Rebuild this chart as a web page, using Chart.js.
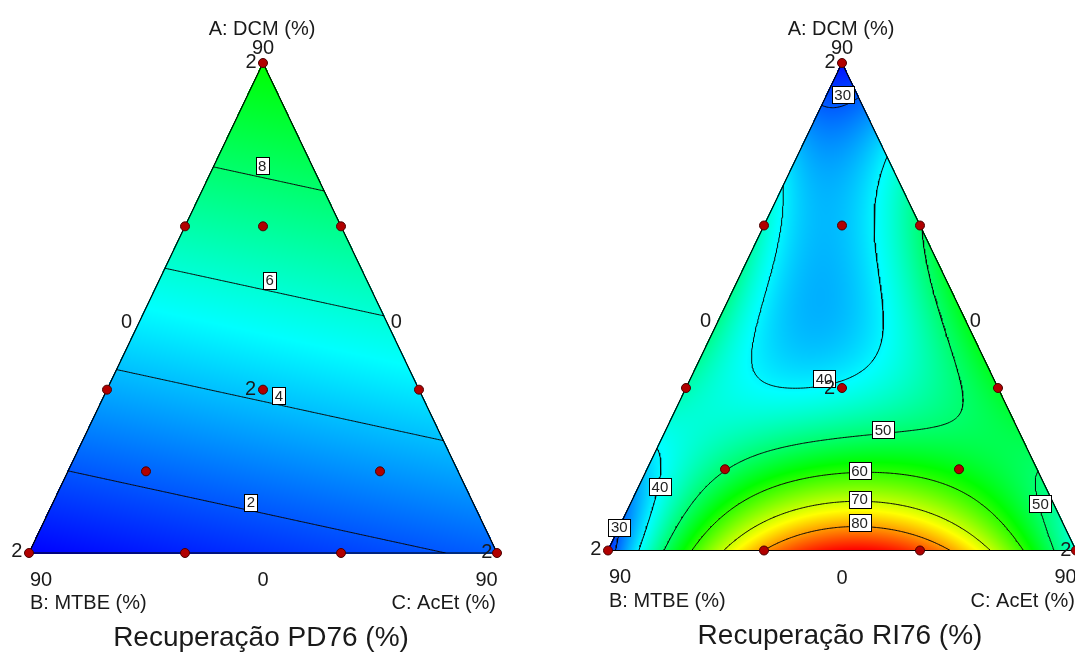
<!DOCTYPE html>
<html>
<head>
<meta charset="utf-8">
<script src="https://cdn.jsdelivr.net/npm/chart.js@4.4.0/dist/chart.umd.min.js"></script>
<style>
  html, body { margin: 0; padding: 0; background: #fff; width: 1075px; height: 652px; overflow: hidden; }
  .panel { position: absolute; top: 0; width: 537px; height: 652px; }
  #panelPD { left: 0; }
  #panelRI { left: 579px; }
  canvas { display: block; }
</style>
</head>
<body>
<div class="panel" id="panelPD"><canvas id="chartPD" width="537" height="652"></canvas></div>
<div class="panel" id="panelRI"><canvas id="chartRI" width="537" height="652"></canvas></div>
<script>
// ---------------------------------------------------------------------------
// Mixture design: A = DCM, B = MTBE, C = AcEt (fractions of the mixture)
// ---------------------------------------------------------------------------
const designRuns = [
  [1, 0, 0], [0, 1, 0], [0, 0, 1],
  [2/3, 1/3, 0], [1/3, 2/3, 0], [2/3, 0, 1/3], [1/3, 0, 2/3], [0, 2/3, 1/3], [0, 1/3, 2/3],
  [1/3, 1/3, 1/3],
  [2/3, 1/6, 1/6], [1/6, 2/3, 1/6], [1/6, 1/6, 2/3]
];
const replicateCount = '2';

const axisTitles = ['A: DCM (%)', 'B: MTBE (%)', 'C: AcEt (%)'];
const tickLabels = ['90', '0'];
const panelTitles = ['Recuperação PD76 (%)', 'Recuperação RI76 (%)'];

// PD76 recovery: linear blend, value at each pure component (A, B, C)
const pd76Corners = [10.05, 0.38, 2.2];
const pd76Levels = [2, 4, 6, 8];
const pd76ColourRange = [0.38, 19.7];
// isoline tags: [level, A, C]
const pd76Tags = [[8, 0.790, 0.103], [6, 0.557, 0.236], [4, 0.322, 0.373], [2, 0.104, 0.422]];

// RI76 recovery readings: [A, C, recovery %]
const ri76Corners = [[1, 0, 25], [0, 0, 27], [0, 1, 43], [0, 0.53, 90]];
const ri76Iso30 = [[0.915, 0, 30], [0.912, 0.044, 30], [0.92, 0.08, 30], [0.035, 0, 30], [0, 0.019, 30]];
const ri76Iso40 = [
  [0.743, 0.005, 40], [0.692, 0.022, 40], [0.535, 0.057, 40], [0.463, 0.068, 40], [0.37, 0.108, 40],
  [0.329, 0.16, 40], [0.326, 0.247, 40], [0.346, 0.339, 40], [0.383, 0.364, 40], [0.431, 0.376, 40],
  [0.472, 0.363, 40], [0.637, 0.273, 40], [0.815, 0.177, 40],
  [0.234, 0, 40], [0.199, 0.036, 40], [0.137, 0.042, 40], [0, 0.07, 40]
];
const ri76Iso50 = [
  [0.652, 0.348, 50], [0.453, 0.5, 50], [0.37, 0.556, 50], [0.308, 0.605, 50], [0.267, 0.596, 50],
  [0.247, 0.534, 50], [0.248, 0.464, 50], [0.22, 0.403, 50], [0.209, 0.299, 50], [0.186, 0.202, 50],
  [0.137, 0.176, 50], [0.089, 0.12, 50], [0, 0.121, 50],
  [0.165, 0.835, 50], [0.084, 0.887, 50], [0, 0.948, 50]
];
const ri76Iso60 = [
  [0, 0.1795, 60], [0.077, 0.183, 60], [0.13, 0.3025, 60], [0.163, 0.456, 60],
  [0.13, 0.6286, 60], [0.082, 0.761, 60], [0, 0.889, 60]
];
const ri76Iso70 = [[0, 0.248, 70], [0.0892, 0.3665, 70], [0.1046, 0.4853, 70], [0.0892, 0.6124, 70], [0, 0.824, 70]];
const ri76Iso80 = [[0, 0.333, 80], [0.0277, 0.397, 80], [0.0564, 0.5094, 80], [0.0277, 0.643, 80], [0, 0.73, 80]];
const ri76Spots = [
  [0.51, 0.245, 37], [0.8, 0.06, 35], [0.7, 0.12, 37], [0.85, 0.07, 32], [0.42, 0.2, 38],
  [0.5, 0, 48], [0.333, 0, 47], [0.667, 0, 44], [0.4, 0, 48], [0.3, 0.1, 46], [0.1, 0.02, 36],
  [0.5, 0.5, 56], [0.333, 0.667, 54], [0.5, 0.4, 45],
  [0.167, 0.167, 49], [0.167, 0.667, 57], [0.333, 0.333, 42], [0.333, 0.5, 46]
];
const ri76Levels = [30, 40, 50, 60, 70, 80];
const ri76ColourRange = [24, 90];
const ri76Tags = [
  [30, 0.935, 0.034], [40, 0.352, 0.2855], [50, 0.248, 0.4636], [60, 0.164, 0.4556],
  [70, 0.1055, 0.4848], [80, 0.057, 0.509], [40, 0.132, 0.045], [30, 0.048, 0.0], [50, 0.096, 0.876]
];

// ---------------------------------------------------------------------------
// Response models
// ---------------------------------------------------------------------------
function linearBlend(corners) {
  return (a, b, c) => corners[0] * a + corners[1] * b + corners[2] * c;
}

// Least-squares polynomial surface over the simplex (in A and C)
function fitSurface(samples, degree) {
  const terms = [];
  for (let i = 0; i <= degree; i++) for (let k = 0; i + k <= degree; k++) terms.push([i, k]);
  const n = terms.length;
  const basis = (a, c) => {
    const u = 3 * a - 1, w = 3 * c - 1;
    return terms.map(([i, k]) => Math.pow(u, i) * Math.pow(w, k));
  };
  const M = Array.from({ length: n }, () => new Array(n + 1).fill(0));
  samples.forEach(([a, c, v]) => {
    const phi = basis(a, c);
    for (let p = 0; p < n; p++) {
      M[p][n] += phi[p] * v;
      for (let q = 0; q < n; q++) M[p][q] += phi[p] * phi[q];
    }
  });
  for (let p = 0; p < n; p++) M[p][p] += 1e-8;
  for (let col = 0; col < n; col++) {
    let piv = col;
    for (let r = col + 1; r < n; r++) if (Math.abs(M[r][col]) > Math.abs(M[piv][col])) piv = r;
    [M[col], M[piv]] = [M[piv], M[col]];
    for (let r = 0; r < n; r++) {
      if (r === col) continue;
      const f = M[r][col] / M[col][col];
      for (let q = col; q <= n; q++) M[r][q] -= f * M[col][q];
    }
  }
  const coef = M.map((row, p) => row[n] / row[p]);
  return (a, b, c) => {
    const phi = basis(a, c);
    let s = 0;
    for (let p = 0; p < n; p++) s += coef[p] * phi[p];
    return s;
  };
}

// ---------------------------------------------------------------------------
// Colour ramp blue - cyan - green - yellow - red
// ---------------------------------------------------------------------------
const ramp = [[0, 0, 255], [0, 255, 255], [0, 255, 0], [255, 255, 0], [255, 0, 0]];
function rampColour(v, range) {
  let t = (v - range[0]) / (range[1] - range[0]);
  t = Math.max(0, Math.min(1, t)) * 4;
  const i = Math.min(3, Math.floor(t));
  const f = t - i;
  return ramp[i].map((ch, j) => Math.round(ch + (ramp[i + 1][j] - ch) * f));
}

// ---------------------------------------------------------------------------
// Isolines by marching triangles on a simplex lattice, chained into polylines
// ---------------------------------------------------------------------------
function isolines(model, levels, N) {
  const W = N + 1;
  const id = (i, k) => i * W + k;
  const vals = new Float64Array(W * W);
  for (let i = 0; i <= N; i++) for (let k = 0; i + k <= N; k++) {
    const a = i / N, c = k / N;
    vals[id(i, k)] = model(a, 1 - a - c, c);
  }
  const tris = [];
  for (let i = 0; i < N; i++) for (let k = 0; i + k < N; k++) {
    tris.push([[i, k], [i + 1, k], [i, k + 1]]);
    if (i + k + 2 <= N) tris.push([[i + 1, k], [i, k + 1], [i + 1, k + 1]]);
  }
  const out = [];
  levels.forEach(L => {
    const pts = new Map();
    const segs = [];
    const adj = new Map();
    tris.forEach(t => {
      const cross = [];
      for (let e = 0; e < 3; e++) {
        const p = t[e], q = t[(e + 1) % 3];
        const ip = id(p[0], p[1]), iq = id(q[0], q[1]);
        const vp = vals[ip], vq = vals[iq];
        if ((vp >= L) !== (vq >= L)) {
          const key = Math.min(ip, iq) * W * W + Math.max(ip, iq);
          if (!pts.has(key)) {
            const f = (L - vp) / (vq - vp);
            const a = (p[0] + f * (q[0] - p[0])) / N;
            const c = (p[1] + f * (q[1] - p[1])) / N;
            pts.set(key, { x: c + a / 2, y: a });
          }
          cross.push(key);
        }
      }
      if (cross.length === 2) {
        const s = segs.length;
        segs.push(cross);
        cross.forEach(key => { if (!adj.has(key)) adj.set(key, []); adj.get(key).push(s); });
      }
    });
    const used = new Array(segs.length).fill(false);
    const extend = (line, atEnd) => {
      for (;;) {
        const key = atEnd ? line[line.length - 1] : line[0];
        const next = (adj.get(key) || []).find(s => !used[s]);
        if (next === undefined) return;
        used[next] = true;
        const other = segs[next][0] === key ? segs[next][1] : segs[next][0];
        if (atEnd) line.push(other); else line.unshift(other);
      }
    };
    segs.forEach((sg, s) => {
      if (used[s]) return;
      used[s] = true;
      const line = [sg[0], sg[1]];
      extend(line, true);
      extend(line, false);
      line.forEach(key => out.push(pts.get(key)));
      out.push({ x: null, y: null });
    });
  });
  return out;
}

// ---------------------------------------------------------------------------
// Plugins: filled response map, tags and lettering
// ---------------------------------------------------------------------------
function surfacePlugin(panel) {
  let cache = null;
  return {
    id: 'responseMap',
    beforeDatasetsDraw(chart) {
      const { ctx, chartArea: ca } = chart;
      const xs = chart.scales.x, ys = chart.scales.y;
      if (!cache) {
        const x0 = Math.floor(ca.left) - 2, y0 = Math.floor(ca.top) - 2;
        const w = Math.ceil(ca.right) - x0 + 4, h = Math.ceil(ca.bottom) - y0 + 4;
        const off = document.createElement('canvas');
        off.width = w; off.height = h;
        const octx = off.getContext('2d');
        const img = octx.createImageData(w, h);
        for (let py = 0; py < h; py++) {
          const a = ys.getValueForPixel(y0 + py + 0.5);
          for (let px = 0; px < w; px++) {
            const sx = xs.getValueForPixel(x0 + px + 0.5);
            const c = sx - a / 2, b = 1 - a - c;
            if (a < -0.002 || b < -0.002 || c < -0.002) continue;
            const col = rampColour(panel.model(a, b, c), panel.range);
            const o = (py * w + px) * 4;
            img.data[o] = col[0]; img.data[o + 1] = col[1]; img.data[o + 2] = col[2]; img.data[o + 3] = 255;
          }
        }
        octx.putImageData(img, 0, 0);
        cache = { off, x0, y0 };
      }
      ctx.drawImage(cache.off, cache.x0, cache.y0);
    }
  };
}

function letteringPlugin(panel) {
  const FONT = '"Liberation Sans", Arial, sans-serif';
  const put = (ctx, str, x, capMidY, size, align) => {
    ctx.font = size + 'px ' + FONT;
    ctx.textAlign = align || 'center';
    ctx.textBaseline = 'alphabetic';
    ctx.fillText(str, x, capMidY + size * 0.358);
  };
  return {
    id: 'lettering',
    afterDatasetsDraw(chart) {
      const ctx = chart.ctx;
      const xs = chart.scales.x, ys = chart.scales.y;
      const P = (a, c) => ({ x: xs.getPixelForValue(c + a / 2), y: ys.getPixelForValue(a) });
      ctx.save();

      // isoline tags
      panel.tags.forEach(([lvl, a, c]) => {
        const p = P(a, c);
        ctx.font = '15px ' + FONT;
        const tw = ctx.measureText(String(lvl)).width;
        const bw = Math.round(tw + 5), bh = 17;
        const bx = Math.round(p.x - bw / 2) + 0.5, by = Math.round(p.y - bh / 2) + 0.5;
        ctx.fillStyle = '#fff';
        ctx.fillRect(bx, by, bw, bh);
        ctx.strokeStyle = '#000';
        ctx.lineWidth = 1;
        ctx.strokeRect(bx, by, bw, bh);
        ctx.fillStyle = '#222';
        put(ctx, String(lvl), p.x, p.y, 15, 'center');
      });

      ctx.fillStyle = '#1a1a1a';
      const apex = P(1, 0), bl = P(0, 0), br = P(0, 1), base = P(0, 0.5);
      const sideL = P(0.473, 0), sideR = P(0.473, 0.527), cen = P(1 / 3, 1 / 3);

      put(ctx, axisTitles[0], apex.x - 1, apex.y - 35, 20);
      put(ctx, tickLabels[0], apex.x, apex.y - 16, 20);
      put(ctx, tickLabels[1], sideL.x - 13, sideL.y, 20);
      put(ctx, tickLabels[1], sideR.x + 10, sideR.y, 20);
      put(ctx, tickLabels[0], bl.x + 12, bl.y + 25.5, 20);
      put(ctx, tickLabels[1], base.x, bl.y + 26, 20);
      put(ctx, tickLabels[0], br.x - 10.5, br.y + 25.5, 20);
      put(ctx, axisTitles[1], bl.x + 1, bl.y + 49, 20, 'left');
      put(ctx, axisTitles[2], br.x - 1, br.y + 49, 20, 'right');
      put(ctx, panel.title, base.x - 2, bl.y + 83, 28);

      // replicate counts beside the repeated runs
      put(ctx, replicateCount, apex.x - 12, apex.y - 2, 20);
      put(ctx, replicateCount, bl.x - 12.3, bl.y - 3, 20);
      put(ctx, replicateCount, br.x - 10.3, br.y - 2, 20);
      put(ctx, replicateCount, cen.x - 12.5, cen.y - 1.4, 20);
      ctx.restore();
    }
  };
}

// ---------------------------------------------------------------------------
// Panels
// ---------------------------------------------------------------------------
function buildPanel(canvasId, panel) {
  const runPoints = designRuns.map(([a, b, c]) => ({ x: c + a / 2, y: a }));
  const frame = [[1, 0], [0, 0], [0, 1], [1, 0]].map(([a, c]) => ({ x: c + a / 2, y: a }));
  const iso = isolines(panel.model, panel.levels, 180);

  return new Chart(document.getElementById(canvasId), {
    type: 'scatter',
    data: {
      datasets: [
        {
          label: 'runs', data: runPoints, order: 0, clip: false,
          pointRadius: 4.5, pointHoverRadius: 4.5,
          backgroundColor: '#b10000', borderColor: '#4a0000', borderWidth: 1
        },
        {
          type: 'line', label: 'frame', data: frame, order: 1, clip: false,
          pointRadius: 0, borderColor: '#000', borderWidth: 1.2, fill: false, tension: 0
        },
        {
          type: 'line', label: 'isolines', data: iso, order: 2, spanGaps: false,
          pointRadius: 0, borderColor: '#0a0a0a', borderWidth: 1, fill: false, tension: 0,
          borderJoinStyle: 'round'
        }
      ]
    },
    options: {
      responsive: false,
      animation: false,
      devicePixelRatio: 1,
      events: [],
      layout: { padding: { left: 29, right: 40, top: 63, bottom: panel.bottomPad } },
      scales: {
        x: { type: 'linear', min: 0, max: 1, display: false },
        y: { type: 'linear', min: 0, max: 1, display: false }
      },
      plugins: { legend: { display: false }, tooltip: { enabled: false } }
    },
    plugins: [surfacePlugin(panel), letteringPlugin(panel)]
  });
}

const ri76Readings = [].concat(ri76Corners, ri76Iso30, ri76Iso40, ri76Iso50, ri76Iso60, ri76Iso70, ri76Iso80, ri76Spots);

buildPanel('chartPD', {
  model: linearBlend(pd76Corners),
  levels: pd76Levels,
  range: pd76ColourRange,
  tags: pd76Tags,
  title: panelTitles[0],
  bottomPad: 99
});

buildPanel('chartRI', {
  model: fitSurface(ri76Readings, 5),
  levels: ri76Levels,
  range: ri76ColourRange,
  tags: ri76Tags,
  title: panelTitles[1],
  bottomPad: 101.5
});
</script>
</body>
</html>
